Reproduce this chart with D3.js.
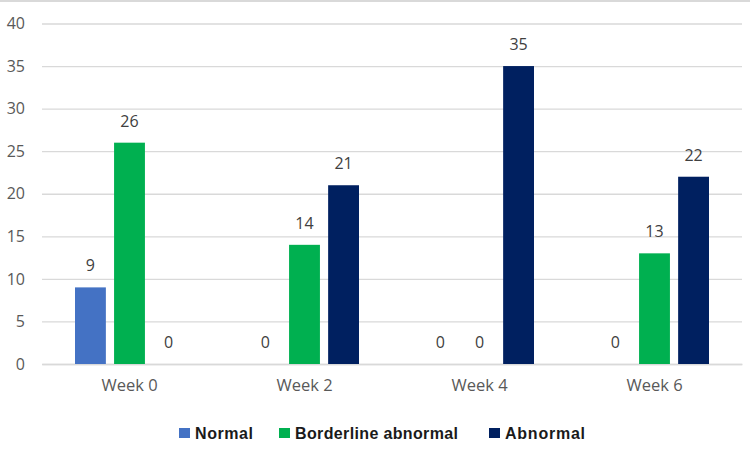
<!DOCTYPE html>
<meta charset="utf-8">
<style>
body { margin: 0; background: #fff; }
text { font-family: "Open Sans", "Liberation Sans", sans-serif; }
.tick text { fill: #595959; font-size: 16px; }
.xax .tick text { font-size: 16.5px; }
.val { fill: #404040; font-size: 16px; }
.leg { fill: #1a1a1a; font: bold 16px "Liberation Sans", sans-serif; }
</style>
<svg width="750" height="462"></svg>
<script src="https://d3js.org/d3.v7.min.js"></script>
<script>

var weeks = ["Week 0", "Week 2", "Week 4", "Week 6"],
    series = ["Normal", "Borderline abnormal", "Abnormal"],
    colors = ["#4472C4", "#00B050", "#002060"];

var normal = [9, 0, 0, 0],
    borderline = [26, 14, 0, 13],
    abnormal = [0, 21, 35, 22];

var yTicks = [0, 5, 10, 15, 20, 25, 30, 35, 40];

var values = [normal, borderline, abnormal];

var svg = d3.select("svg"),
    plotLeft = 42, plotRight = 742, plotTop = 23.5, plotBottom = 364;

// top border of the chart area
svg.append("line")
    .attr("x1", 0).attr("x2", 750)
    .attr("y1", 1).attr("y2", 1)
    .attr("stroke", "#d9d9d9").attr("stroke-width", 2);

var x = d3.scaleBand().domain(weeks).range([plotLeft, plotRight]),
    xs = d3.scaleBand().domain(d3.range(3)).range([-54.5, 54.5]).paddingInner(0.21),
    y = d3.scaleLinear().domain([0, 40]).range([plotBottom, plotTop]);

// gridlines + y labels
var gy = svg.append("g")
    .attr("transform", "translate(" + plotLeft + ",0)")
    .call(d3.axisLeft(y).tickValues(yTicks).tickSize(-(plotRight - plotLeft)).tickPadding(17));
gy.select(".domain").remove();
gy.selectAll(".tick line").attr("stroke", "#d9d9d9").attr("stroke-width", 1.3);

// x labels
var gx = svg.append("g")
    .attr("class", "xax")
    .attr("transform", "translate(0," + plotBottom + ")")
    .call(d3.axisBottom(x).tickSize(0).tickPadding(15));
gx.select(".domain").attr("stroke", "#d9d9d9").attr("stroke-width", 1.3);

// bars
var groups = svg.selectAll(".grp")
    .data(weeks)
  .enter().append("g")
    .attr("class", "grp")
    .attr("transform", function(d) { return "translate(" + (x(d) + x.bandwidth() / 2) + ",0)"; });

groups.selectAll("rect")
    .data(function(d, i) { return values.map(function(v, s) { return {s: s, v: v[i]}; }); })
  .enter().append("rect")
    .attr("x", function(d) { return xs(d.s); })
    .attr("width", xs.bandwidth())
    .attr("y", function(d) { return y(d.v); })
    .attr("height", function(d) { return plotBottom - y(d.v); })
    .attr("fill", function(d) { return colors[d.s]; });

groups.selectAll(".val")
    .data(function(d, i) { return values.map(function(v, s) { return {s: s, v: v[i]}; }); })
  .enter().append("text")
    .attr("class", "val")
    .attr("text-anchor", "middle")
    .attr("x", function(d) { return xs(d.s) + xs.bandwidth() / 2; })
    .attr("y", function(d) { return y(d.v) - 16; })
    .text(function(d) { return d.v; });

// legend
var legX = [179, 279, 489],
    legW = [58, 163, 80];
var leg = svg.selectAll(".legitem")
    .data(series)
  .enter().append("g")
    .attr("transform", function(d, i) { return "translate(" + legX[i] + ",428)"; });
leg.append("rect").attr("width", 11).attr("height", 10)
    .attr("fill", function(d, i) { return colors[i]; });
leg.append("text").attr("class", "leg")
    .attr("x", 16).attr("y", 10.5)
    .attr("textLength", function(d, i) { return legW[i]; })
    .text(function(d) { return d; });

</script>
